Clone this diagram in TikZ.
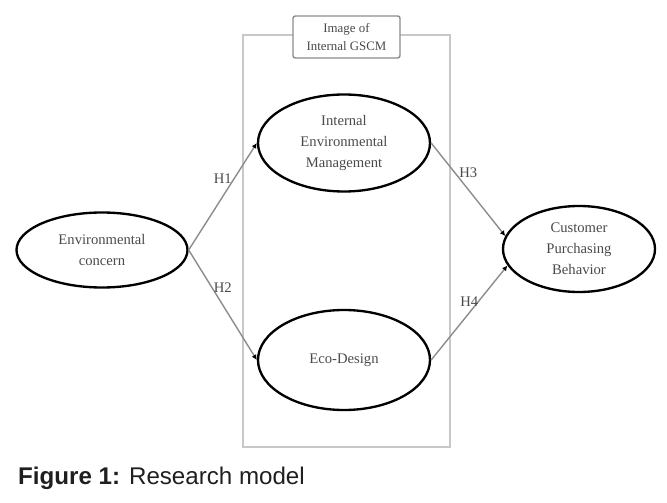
\documentclass[tikz,border=0pt]{standalone}
\usepackage{fontspec}
\setmainfont{Liberation Serif}
\newfontfamily\capfont{Liberation Sans}
\usepackage{tikz}
\usetikzlibrary{arrows.meta,positioning,shapes.geometric}

\definecolor{boxgray}{HTML}{C8C8C8}
\definecolor{linegray}{HTML}{8C8C8C}
\definecolor{txtgray}{HTML}{4A4A4A}

\begin{document}
\begin{tikzpicture}[
    >={Latex[black,length=4.5pt,width=4.5pt]},
    every node/.style={font=\fontsize{12.5}{18}\selectfont, text=txtgray},
    construct/.style={
        draw=black,
        ellipse,
        line width=2pt,
        inner sep=0pt,
        align=center
    },
    hyp/.style={->, draw=linegray, line width=1.2pt}
]

\useasboundingbox (0,0) rectangle (20.01,15.06);

% frame of the internal GSCM part
\draw[boxgray, line width=1.5pt] (7.29,1.65) rectangle (13.5,14.01);
\node[draw=linegray, fill=white, line width=1.2pt, rounded corners=2pt,
      minimum width=3.21cm, minimum height=1.26cm, align=center,
      font=\fontsize{11}{16}\selectfont] (gscm) at (10.395,13.95)
      {Image of\\Internal GSCM};

\node[construct, minimum width=5.13cm, minimum height=2.25cm] (concern) at (3.06,7.56)
    {Environmental\\concern};
\node[construct, minimum width=5.16cm, minimum height=2.91cm] (iem) at (10.32,10.77)
    {Internal\\Environmental\\Management};
\node[construct, minimum width=5.16cm, minimum height=3.0cm] (eco) at (10.32,4.26)
    {Eco-Design};
\node[construct, minimum width=4.56cm, minimum height=2.58cm] (cpb) at (17.37,7.59)
    {Customer\\Purchasing\\Behavior};

\draw[hyp] (concern.east) -- node[above=7pt] {H1} (iem.west);
\draw[hyp] (concern.east) -- node[above=7pt] {H2} (eco.west);
\draw[hyp] (iem.east) -- node[above=6pt] {H3} (cpb.170);
\draw[hyp] (eco.east) -- node[above=1pt] {H4} (cpb.193);

\node[anchor=base west, inner sep=0pt, text=black!88,
      font=\capfont\fontsize{20.6}{24}\selectfont] (caption) at (0.54,0.54)
    {\textbf{Figure 1:} Research model};

\end{tikzpicture}
\end{document}
